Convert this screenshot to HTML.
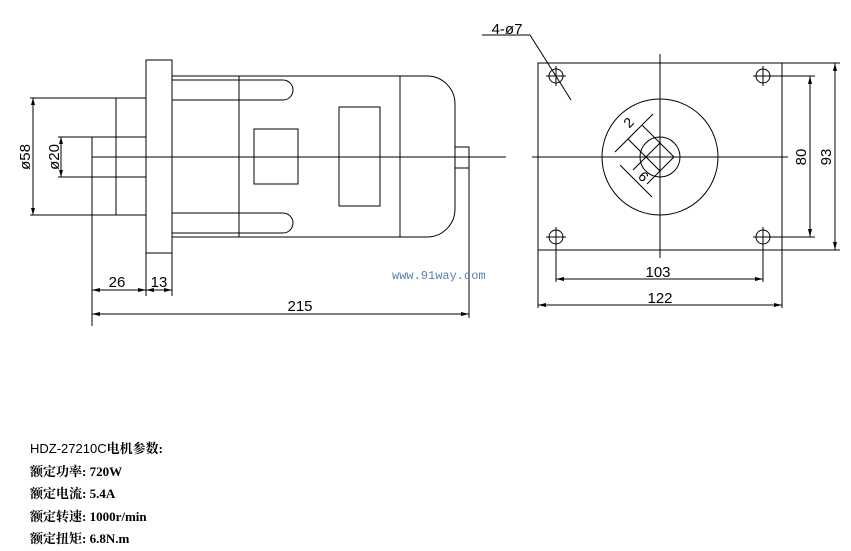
<!DOCTYPE html>
<html><head><meta charset="utf-8"><style>
body{margin:0;background:#fff;width:851px;height:551px;overflow:hidden}
.t{position:absolute;left:30px;font-family:"Liberation Serif","Noto Serif CJK SC",serif;font-size:13px;font-weight:bold;color:#000;white-space:nowrap}
</style></head><body>
<svg width="851" height="551" style="position:absolute;left:0;top:0" font-family="Liberation Sans, sans-serif">
<g stroke="#000" stroke-width="1" fill="none">
<!-- left view -->
<rect x="146" y="60" width="26" height="193"/>
<line x1="146" y1="253" x2="146" y2="296"/><line x1="172" y1="253" x2="172" y2="296"/>
<path d="M172 76 H427 A28 28 0 0 1 455 104 V209 A28 28 0 0 1 427 237 H172"/>
<line x1="400" y1="76" x2="400" y2="237"/>
<line x1="239" y1="76" x2="239" y2="237"/>
<path d="M172 80 H283 A10 10 0 0 1 283 100 H172"/>
<path d="M172 213 H283 A10 10 0 0 1 283 233 H172"/>
<rect x="254" y="129" width="44" height="55"/>
<rect x="339" y="107" width="41" height="99"/>
<rect x="455" y="147" width="14" height="21"/>
<line x1="92" y1="157" x2="500" y2="157"/>
<rect x="116" y="98" width="30" height="117"/>
<path d="M146 137 H92 V177 H146"/>
<line x1="92" y1="177" x2="92" y2="326"/>
<line x1="469" y1="168" x2="469" y2="318"/>
<line x1="30" y1="98" x2="116" y2="98"/><line x1="30" y1="215" x2="116" y2="215"/>
<line x1="33" y1="98" x2="33" y2="215"/>
<line x1="58" y1="137" x2="92" y2="137"/><line x1="58" y1="177" x2="92" y2="177"/>
<line x1="61" y1="137" x2="61" y2="177"/>
<line x1="92" y1="290" x2="172" y2="290"/>
<line x1="92" y1="314" x2="469" y2="314"/>
<!-- right view -->
<rect x="538" y="63" width="244" height="187"/>
<line x1="660" y1="54" x2="660" y2="258"/>
<line x1="532" y1="157" x2="788" y2="157"/>
<line x1="470" y1="157" x2="506" y2="157"/>
<circle cx="660" cy="157" r="58"/>
<circle cx="660" cy="157" r="20"/>
<path d="M660 143 L674 157 L660 171 L646 157 Z"/>
<line x1="660" y1="143" x2="642" y2="125"/><line x1="646" y1="157" x2="628" y2="139"/>
<line x1="615" y1="152" x2="653" y2="114"/>
<line x1="646" y1="157" x2="633" y2="170"/><line x1="660" y1="171" x2="647" y2="184"/>
<line x1="620" y1="165" x2="652" y2="197"/>
<g id="h"><circle cx="556" cy="76" r="7"/><line x1="546" y1="76" x2="566" y2="76"/><line x1="556" y1="66" x2="556" y2="86"/></g>
<circle cx="763" cy="76" r="7"/><line x1="753" y1="76" x2="763" y2="76"/><line x1="763" y1="66" x2="763" y2="86"/>
<circle cx="556" cy="237" r="7"/><line x1="546" y1="237" x2="566" y2="237"/><line x1="556" y1="227" x2="556" y2="247"/>
<circle cx="763" cy="237" r="7"/><line x1="753" y1="237" x2="763" y2="237"/><line x1="763" y1="227" x2="763" y2="247"/>
<line x1="763" y1="76" x2="815" y2="76"/><line x1="763" y1="237" x2="815" y2="237"/>
<line x1="810" y1="76" x2="810" y2="237"/>
<line x1="782" y1="63" x2="840" y2="63"/><line x1="782" y1="250" x2="840" y2="250"/>
<line x1="835" y1="63" x2="835" y2="250"/>
<line x1="556" y1="244" x2="556" y2="282"/><line x1="763" y1="244" x2="763" y2="282"/>
<line x1="556" y1="279" x2="763" y2="279"/>
<line x1="538" y1="250" x2="538" y2="308"/><line x1="782" y1="250" x2="782" y2="308"/>
<line x1="538" y1="305" x2="782" y2="305"/>
<path d="M482 35 H530 L571 100"/>
</g>
<g fill="#000">
<path d="M33 98 l-2 7 h4z M33 215 l-2 -7 h4z M61 137 l-2 7 h4z M61 177 l-2 -7 h4z"/>
<path d="M92 290 l8 -2 v4z M146 290 l-8 -2 v4z M146 290 l8 -2 v4z M172 290 l-8 -2 v4z"/>
<path d="M92 314 l8 -2 v4z M469 314 l-8 -2 v4z"/>
<path d="M810 76 l-2 8 h4z M810 237 l-2 -8 h4z M835 63 l-2 8 h4z M835 250 l-2 -8 h4z"/>
<path d="M556 279 l8 -2 v4z M763 279 l-8 -2 v4z M538 305 l8 -2 v4z M782 305 l-8 -2 v4z"/>
</g>
<g font-size="15" fill="#000">
<text x="117" y="287" text-anchor="middle">26</text>
<text x="159" y="287" text-anchor="middle">13</text>
<text x="300" y="311" text-anchor="middle">215</text>
<text x="658" y="277" text-anchor="middle">103</text>
<text x="660" y="303" text-anchor="middle">122</text>
<text x="507" y="34" text-anchor="middle">4-ø7</text>
<text transform="translate(30,157) rotate(-90)" text-anchor="middle">ø58</text>
<text transform="translate(59,157) rotate(-90)" text-anchor="middle">ø20</text>
<text transform="translate(806,157) rotate(-90)" text-anchor="middle">80</text>
<text transform="translate(831,157) rotate(-90)" text-anchor="middle">93</text>
<text transform="translate(632,126) rotate(-45)" text-anchor="middle" font-size="14">2</text>
<text transform="translate(640,180) rotate(45)" text-anchor="middle" font-size="14">6</text>
</g>
<text x="392" y="279" font-family="Liberation Mono, monospace" font-size="12" fill="#5a7fb0">www.91way.com</text>
</svg>
<div class="t" style="top:438px"><span style="font-weight:normal;font-family:'Liberation Sans',sans-serif">HDZ-27210C</span>电机参数:</div>
<div class="t" style="top:461px">额定功率: 720W</div>
<div class="t" style="top:483px">额定电流: 5.4A</div>
<div class="t" style="top:506px">额定转速: 1000r/min</div>
<div class="t" style="top:528px">额定扭矩: 6.8N.m</div>
</body></html>
